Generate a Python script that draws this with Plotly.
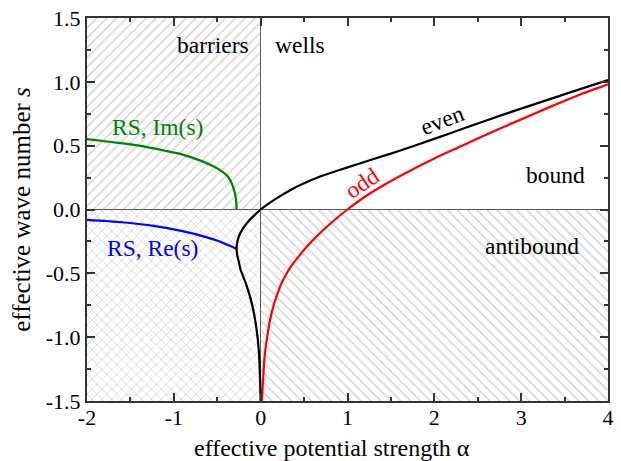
import plotly.graph_objects as go

# Even-parity branch: antibound part (s < 0) turning back into the bound part (s > 0)
alpha_even = [0.0, -0.008, -0.022, -0.045, -0.075, -0.115, -0.170, -0.232, -0.255,
              -0.272, -0.277, -0.268, -0.245, -0.205, -0.150, -0.080, 0.0,
              0.100, 0.200, 0.350, 0.500, 0.700, 1.000, 1.300, 1.600, 2.000,
              2.400, 2.800, 3.200, 3.600, 4.000]
s_even = [-1.50, -1.30, -1.10, -0.95, -0.82, -0.70, -0.58, -0.47, -0.40,
          -0.35, -0.30, -0.25, -0.20, -0.15, -0.10, -0.05, 0.0,
          0.050, 0.095, 0.155, 0.205, 0.262, 0.330, 0.395, 0.460, 0.553,
          0.650, 0.745, 0.835, 0.925, 1.014]

# Odd-parity branch
alpha_odd = [0.015, 0.022, 0.035, 0.045, 0.058, 0.075, 0.098, 0.130, 0.150, 0.172,
             0.200, 0.225, 0.260, 0.300, 0.345, 0.400, 0.520, 0.660, 0.820,
             1.000, 1.200, 1.440, 1.710, 2.000, 2.320, 2.640, 2.980, 3.320, 3.660, 4.000]
s_odd = [-1.50, -1.40, -1.25, -1.15, -1.08, -1.00, -0.90, -0.80, -0.75, -0.70,
         -0.65, -0.60, -0.55, -0.50, -0.45, -0.40, -0.30, -0.20, -0.10,
         0.0, 0.10, 0.20, 0.30, 0.40, 0.50, 0.60, 0.70, 0.80, 0.895, 0.980]

# Resonant states for barriers: imaginary and real parts of s
alpha_rs_im = [-2.0, -1.7, -1.4, -1.1, -0.9, -0.7, -0.55, -0.45, -0.38, -0.33,
               -0.30, -0.285, -0.279, -0.277]
s_rs_im = [0.552, 0.527, 0.500, 0.460, 0.430, 0.385, 0.340, 0.300, 0.260, 0.200,
           0.135, 0.080, 0.040, 0.0]

alpha_rs_re = [-2.0, -1.6, -1.25, -0.9, -0.65, -0.487, -0.40, -0.33, -0.277]
s_rs_re = [-0.082, -0.100, -0.127, -0.170, -0.212, -0.247, -0.272, -0.292, -0.310]

x_ticks = [-2, -1, 0, 1, 2, 3, 4]
x_ticklabels = ["-2", "-1", "0", "1", "2", "3", "4"]
y_ticks = [-1.5, -1.0, -0.5, 0.0, 0.5, 1.0, 1.5]
y_ticklabels = ["-1.5", "-1.0", "-0.5", "0.0", "0.5", "1.0", "1.5"]

X_MIN, X_MAX = -2, 4
Y_MIN, Y_MAX = -1.5, 1.5

FONT = "'Liberation Serif', 'Times New Roman', Times, serif"
HATCH = "#a6a6a6"

fig = go.Figure()


def hatched_region(x0, x1, y0, y1, shape):
    fig.add_trace(go.Scatter(
        x=[x0, x1, x1, x0, x0], y=[y0, y0, y1, y1, y0],
        mode="none", fill="toself", fillcolor="rgba(0,0,0,0)",
        fillpattern=dict(shape=shape, fgcolor=HATCH, bgcolor="rgba(0,0,0,0)",
                         size=7, solidity=0.22),
        hoverinfo="skip", showlegend=False))


hatched_region(X_MIN, 0, 0, Y_MAX, "/")
hatched_region(X_MIN, 0, Y_MIN, 0, "x")
hatched_region(0, X_MAX, Y_MIN, 0, "\\")


def curve(x, y, color):
    fig.add_trace(go.Scatter(
        x=x, y=y, mode="lines",
        line=dict(color=color, width=2.2, shape="spline", smoothing=0.7),
        showlegend=False))


curve(alpha_rs_im, s_rs_im, "#008000")
curve(alpha_rs_re, s_rs_re, "#0000ff")
curve(alpha_odd, s_odd, "#ff0000")
curve(alpha_even, s_even, "#000000")

labels = [
    ("barriers", -0.554, 1.288, "#000000", 0),
    ("wells", 0.457, 1.288, "#000000", 0),
    ("RS, Im(s)", -1.188, 0.646, "#008000", 0),
    ("RS, Re(s)", -1.245, -0.304, "#0000ff", 0),
    ("even", 2.09, 0.70, "#000000", -21),
    ("odd", 1.165, 0.21, "#ff0000", -34),
    ("bound", 3.392, 0.27, "#000000", 0),
    ("antibound", 3.123, -0.286, "#000000", 0),
]
for text, x, y, color, angle in labels:
    fig.add_annotation(x=x, y=y, xref="x", yref="y", text=text, showarrow=False,
                       textangle=angle, font=dict(family=FONT, size=23.5, color=color))

# x-axis title, set slightly left of the plot centre and below the tick labels
fig.add_annotation(x=0.47, y=0, xref="paper", yref="paper", yshift=-47,
                   xanchor="center", yanchor="middle", showarrow=False,
                   text="effective potential strength α",
                   font=dict(family=FONT, size=24, color="#000000"))

axis_common = dict(
    showline=True, linecolor="#333333", linewidth=2, mirror="ticks",
    ticks="inside", ticklen=8, tickwidth=1.5, tickcolor="#333333",
    showgrid=False, zeroline=True, zerolinecolor="#555555", zerolinewidth=1,
    tickfont=dict(family=FONT, size=22, color="#000000"),
    automargin=False,
)

fig.update_xaxes(
    range=[X_MIN, X_MAX], tickmode="array", tickvals=x_ticks, ticktext=x_ticklabels,
    ticklabelstandoff=-4,
    minor=dict(tickmode="linear", tick0=-2, dtick=0.5, ticks="inside", ticklen=4,
               tickwidth=1.5, tickcolor="#333333", showgrid=False),
    **axis_common)
fig.update_yaxes(
    range=[Y_MIN, Y_MAX], tickmode="array", tickvals=y_ticks, ticktext=y_ticklabels,
    minor=dict(tickmode="linear", tick0=-1.5, dtick=0.25, ticks="inside", ticklen=4,
               tickwidth=1.5, tickcolor="#333333", showgrid=False),
    title=dict(text="effective wave number <i>s</i>", standoff=8,
               font=dict(family=FONT, size=25, color="#000000")),
    **axis_common)

fig.update_layout(
    width=621, height=461,
    margin=dict(l=87, r=13, t=18, b=60, autoexpand=False),
    paper_bgcolor="white", plot_bgcolor="white",
    font=dict(family=FONT),
)

fig.write_html("out.html")
